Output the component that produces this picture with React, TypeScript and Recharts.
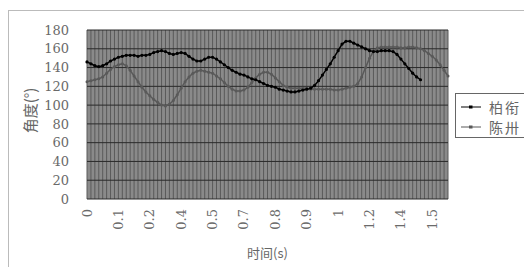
import React from 'react';
import { LineChart, Line, XAxis, YAxis, CartesianGrid } from 'recharts';

const TICK_LABELS = ['0', '0.1', '0.2', '0.4', '0.5', '0.7', '0.8', '0.9', '1', '1.2', '1.4', '1.5'];
const Y_TICKS = [0, 20, 40, 60, 80, 100, 120, 140, 160, 180];

const BAI_XIAN = [
  146, 144, 142, 141, 142, 144, 147, 149, 151, 152,
  153, 153, 153, 152, 153, 153, 154, 156, 157, 158,
  157, 155, 154, 155, 156, 155, 152, 149, 147, 147,
  149, 151, 151, 149, 146, 143, 140, 137, 135, 133,
  132, 130, 128, 127, 125, 123, 121, 120, 119, 117,
  116, 115, 114, 114, 115, 116, 117, 118, 121, 126,
  132, 138, 144, 151, 158, 165, 168, 168, 166, 164,
  162, 160, 158, 157, 157, 158, 158, 158, 157, 154,
  149, 144, 139, 134, 130, 127,
];

const CHEN_SA = [
  125, 126, 127, 128, 130, 134, 138, 141, 143, 144,
  142, 137, 131, 125, 119, 114, 110, 106, 103, 100,
  99, 101, 105, 111, 118, 125, 130, 134, 136, 137,
  136, 135, 134, 131, 128, 124, 120, 117, 115, 115,
  116, 119, 124, 129, 133, 135, 135, 133, 129, 125,
  121, 119, 118, 118, 118, 118, 118, 117, 117, 117,
  117, 117, 117, 116, 116, 117, 118, 119, 120, 123,
  130, 140, 150, 157, 161, 162, 162, 162, 162, 162,
  161, 161, 162, 162, 161, 160, 158, 155, 152, 148,
  143, 137, 131,
];

const SERIES_NAMES = ['柏衔', '陈卅'];
const SERIES_COLORS = ['#000000', '#595959'];

const data = CHEN_SA.map((v, i) => ({
  idx: i,
  a: i < BAI_XIAN.length ? BAI_XIAN[i] : null,
  b: v,
}));

const SERIF = '"DejaVu Serif", "Liberation Serif", serif';
const CJK = '"Noto Sans CJK SC", sans-serif';

const XTick = (props: any) => {
  const { x, y, payload } = props;
  const i = payload.value as number;
  if (i % 8 !== 0) return null;
  const label = TICK_LABELS[i / 8];
  if (label === undefined) return null;
  return (
    <text
      x={x}
      y={y}
      transform={`rotate(-90, ${x}, ${y})`}
      textAnchor="end"
      dominantBaseline="central"
      fontFamily={SERIF}
      fontSize={13}
      fill="#6a6a6a"
    >
      {label}
    </text>
  );
};

const YTitle = (props: any) => {
  const vb = props.viewBox || {};
  const cx = (vb.x || 0) + 29;
  const cy = (vb.y || 0) + (vb.height || 0) / 2 - 4;
  return (
    <text
      x={cx}
      y={cy}
      transform={`rotate(-90, ${cx}, ${cy})`}
      textAnchor="middle"
      dominantBaseline="central"
      fontFamily={CJK}
      fontSize={15}
      fill="#666"
    >
      角度(°)
    </text>
  );
};

const LegendBox = () => (
  <div
    style={{
      position: 'absolute',
      left: 455,
      top: 93,
      border: '1px solid #666',
      background: '#fff',
      width: 90,
      height: 45,
      boxSizing: 'border-box',
      padding: '3px 0 0 4px',
    }}
  >
    {SERIES_NAMES.map((n, k) => (
      <div key={n} style={{ display: 'flex', alignItems: 'center', height: 20 }}>
        <svg width={22} height={10}>
          <line x1={1} y1={5} x2={21} y2={5} stroke={SERIES_COLORS[k]} strokeWidth={1} />
          <rect x={9} y={3.5} width={3.5} height={3} fill={SERIES_COLORS[k]} />
        </svg>
        <span style={{ fontFamily: CJK, fontSize: 14, color: '#666', marginLeft: 7, lineHeight: '20px', letterSpacing: 2 }}>{n}</span>
      </div>
    ))}
  </div>
);

export default function App() {
  return (
    <div style={{ position: 'absolute', left: 0, top: 0, width: 524, height: 267, background: '#fff', overflow: 'hidden' }}>
      <div
        style={{
          position: 'absolute',
          left: 8,
          top: 10,
          width: 530,
          height: 270,
          border: '1px solid #bbb',
          boxSizing: 'border-box',
        }}
      />
      <LineChart
        width={524}
        height={267}
        data={data}
        margin={{ top: 30, right: 76, bottom: 0, left: 0 }}
      >
        <CartesianGrid
          fill="#8a8a8a"
          stroke="#5a5a5a"
          horizontal={false}
          vertical={true}
        />
        <CartesianGrid
          horizontal={true}
          vertical={false}
          stroke="#2a2a2a"
        />
        <XAxis
          dataKey="idx"
          type="category"
          interval={0}
          tick={<XTick />}
          tickLine={false}
          axisLine={false}
          height={68}
          tickMargin={4}
          label={{ value: '时间(s)', position: 'insideBottom', offset: 9, fontFamily: CJK, fontSize: 13, fill: '#666' }}
        />
        <YAxis
          domain={[0, 180]}
          ticks={Y_TICKS}
          interval={0}
          width={87}
          tickLine={false}
          axisLine={false}
          tickMargin={12}
          tick={{ fontFamily: SERIF, fontSize: 13, fill: '#6a6a6a' }}
          label={<YTitle />}
        />
        <Line
          dataKey="b"
          name={SERIES_NAMES[1]}
          stroke={SERIES_COLORS[1]}
          strokeWidth={1.5}
          dot={{ r: 1.5, fill: SERIES_COLORS[1], stroke: 'none' }}
          isAnimationActive={false}
        />
        <Line
          dataKey="a"
          name={SERIES_NAMES[0]}
          stroke={SERIES_COLORS[0]}
          strokeWidth={1.5}
          dot={{ r: 1.6, fill: SERIES_COLORS[0], stroke: 'none' }}
          connectNulls={false}
          isAnimationActive={false}
        />
      </LineChart>
      <LegendBox />
    </div>
  );
}
